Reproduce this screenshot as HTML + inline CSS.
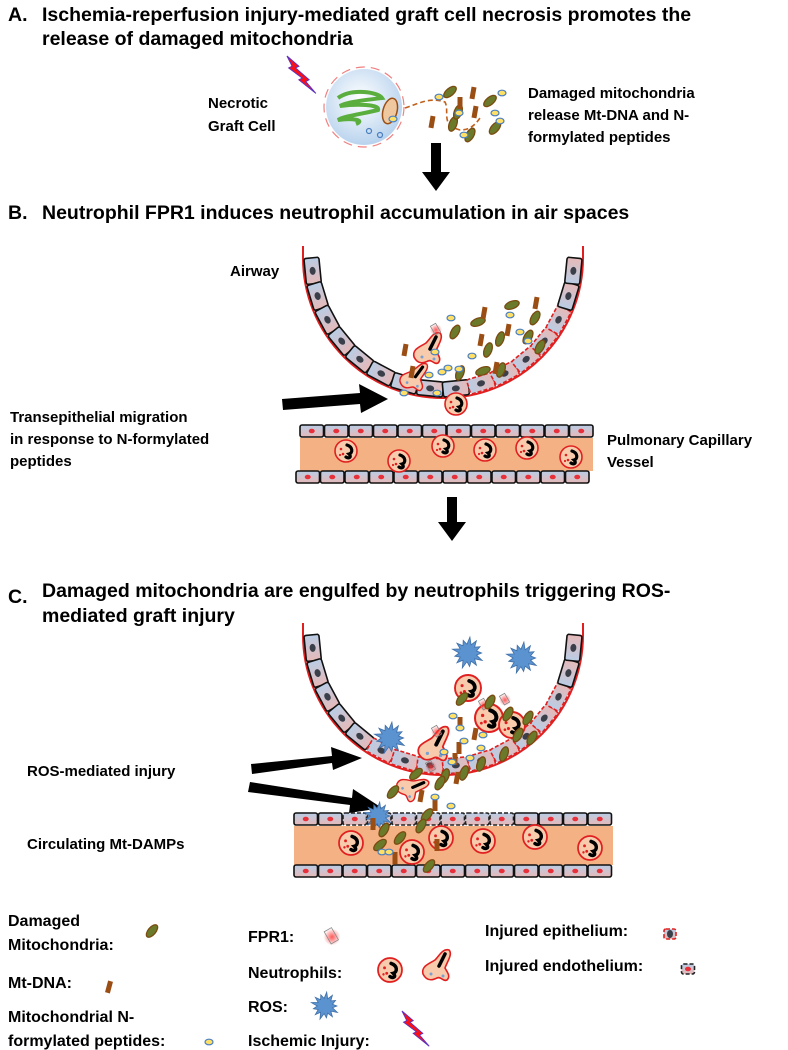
<!DOCTYPE html>
<html><head><meta charset="utf-8">
<style>
html,body{margin:0;padding:0;background:#fff;}
svg{display:block;}
text{font-family:"Liberation Sans",Arial,sans-serif;font-weight:bold;fill:#000;}
.t{font-size:19.5px;}
.l{font-size:15px;}
.g{font-size:16px;}
</style></head><body>
<svg id="s" width="788" height="1050" viewBox="0 0 788 1050" xmlns="http://www.w3.org/2000/svg">
<defs>
<linearGradient id="cg" x1="0" y1="0" x2="0" y2="1"><stop offset="0" stop-color="#b9cde5"/><stop offset="1" stop-color="#e6b9b8"/></linearGradient>
<radialGradient id="cell" cx="0.45" cy="0.4" r="0.6"><stop offset="0" stop-color="#ffffff"/><stop offset="1" stop-color="#b9d3ee"/></radialGradient>
<radialGradient id="fg" cx="0.5" cy="0.5" r="0.5"><stop offset="0" stop-color="#ff3030" stop-opacity="0.8"/><stop offset="1" stop-color="#ff3030" stop-opacity="0"/></radialGradient>
</defs>

<text class="t" x="8" y="21">A.</text>
<text class="t" x="42" y="21">Ischemia-reperfusion injury-mediated graft cell necrosis promotes the</text>
<text class="t" x="42" y="45">release of damaged mitochondria</text>
<text class="l" x="208" y="108">Necrotic</text>
<text class="l" x="208" y="131">Graft Cell</text>
<text class="l" x="528" y="98">Damaged mitochondria</text>
<text class="l" x="528" y="120">release Mt-DNA and N-</text>
<text class="l" x="528" y="142">formylated peptides</text>

<text class="t" x="8" y="219">B.</text>
<text class="t" x="42" y="219">Neutrophil FPR1 induces neutrophil accumulation in air spaces</text>
<text class="l" x="230" y="276">Airway</text>
<text class="l" x="10" y="422">Transepithelial migration</text>
<text class="l" x="10" y="444">in response to N-formylated</text>
<text class="l" x="10" y="466">peptides</text>
<text class="l" x="607" y="445">Pulmonary Capillary</text>
<text class="l" x="607" y="467">Vessel</text>

<text class="t" x="8" y="603">C.</text>
<text class="t" x="42" y="597">Damaged mitochondria are engulfed by neutrophils triggering ROS-</text>
<text class="t" x="42" y="622">mediated graft injury</text>
<text class="l" x="27" y="776">ROS-mediated injury</text>
<text class="l" x="27" y="849">Circulating Mt-DAMPs</text>

<text class="g" x="8" y="926">Damaged</text>
<text class="g" x="8" y="950">Mitochondria:</text>
<text class="g" x="8" y="988">Mt-DNA:</text>
<text class="g" x="8" y="1022">Mitochondrial N-</text>
<text class="g" x="8" y="1046">formylated peptides:</text>
<text class="g" x="248" y="942">FPR1:</text>
<text class="g" x="248" y="978">Neutrophils:</text>
<text class="g" x="248" y="1012">ROS:</text>
<text class="g" x="248" y="1046">Ischemic Injury:</text>
<text class="g" x="485" y="936">Injured epithelium:</text>
<text class="g" x="485" y="971">Injured endothelium:</text>

<polygon points="431,143 441,143 441,172 450,172 436,191 422,172 431,172" fill="#000"/>
<polygon points="447,497 457,497 457,522 466,522 452,541 438,522 447,522" fill="#000"/>
<polygon points="282,399 360,393 359,384 388,399 361,413 360,404 283,410" fill="#000"/>
<polygon points="251,764 332,756 331,747 362,758 333,770 332,763 252,774" fill="#000"/>
<polygon points="250,782 352,798 353,789 382,808 349,813 350,805 248,792" fill="#000"/>

<g id="dyn"></g>
</svg>
<script>
var NS="http://www.w3.org/2000/svg",D=document.getElementById("dyn");
function el(t,a,p){var e=document.createElementNS(NS,t);for(var k in a)e.setAttribute(k,a[k]);(p||D).appendChild(e);return e;}
function cell(cx,cy,w,h,rot,nuc,inj,dashColor){
 var g=el("g",{transform:"translate("+cx+","+cy+") rotate("+rot+")"});
 el("rect",{x:-w/2,y:-h/2,width:w,height:h,rx:2,fill:"url(#cg)",stroke:inj?dashColor:"#111","stroke-width":1.6,"stroke-dasharray":inj?"4,2":"none"},g);
 el("ellipse",{cx:0,cy:0,rx:3,ry:nuc=="r"?2.3:4,fill:nuc=="r"?"#e8303a":"#3b3f4a"},g);
}
function airway(cx,cy,r,injFrom,injTo){
 var R=r+9;
 el("path",{d:"M"+(cx-R)+","+(cy-12)+" L"+(cx-R)+","+cy+" A"+R+","+R+" 0 0 0 "+(cx+R)+","+cy+" L"+(cx+R)+","+(cy-12),fill:"none",stroke:"#e02020","stroke-width":2});
 var n=16;
 for(var i=0;i<n;i++){
  var th=(i+0.5)*Math.PI/n;
  var x=cx-r*Math.cos(th), y=cy+r*Math.sin(th);
  var inj=i>=injFrom&&i<=injTo;
  cell(x,y,15,26,-th*180/Math.PI,"d",inj,"#e02020");
 }
}
function vessel(x0,y,n,w,injSet){
 for(var i=0;i<n;i++){var inj=injSet&&injSet.indexOf(i)>=0;
  cell(x0+i*(w+1)+w/2,y,w,12,0,"r",inj,"#222");}
}
function neut(x,y,r){
 var g=el("g",{transform:"translate("+x+","+y+") scale("+(r/11)+")"});
 el("circle",{r:11,fill:"#f8cbad",stroke:"#e02020","stroke-width":1.6},g);
 el("path",{d:"M1,-6 C7,-4 7,2 3,3 C6,6 3,8 0,6",fill:"none",stroke:"#000","stroke-width":3.2,"stroke-linecap":"round"},g);
 el("circle",{cx:-5,cy:-2,r:1.3,fill:"#e02020"},g);el("circle",{cx:-3,cy:3,r:1.3,fill:"#e02020"},g);el("circle",{cx:-6,cy:4,r:1.1,fill:"#e02020"},g);
}
function amoeb(x,y,s,rot){
 var g=el("g",{transform:"translate("+x+","+y+") rotate("+(rot||0)+") scale("+s+")"});
 el("path",{d:"M-14,4 C-16,-4 -8,-6 -2,-10 C2,-14 6,-22 12,-20 C16,-16 10,-8 8,-2 C10,2 14,6 10,10 C6,12 4,6 0,8 C-4,10 -10,12 -14,4Z",fill:"#f8cbad",stroke:"#e02020","stroke-width":1.6},g);
 el("path",{d:"M8,-16 L2,-4",stroke:"#000","stroke-width":3.5,"stroke-linecap":"round"},g);
 el("circle",{cx:-6,cy:4,r:1.5,fill:"#7aa0d0"},g);el("circle",{cx:6,cy:6,r:1.5,fill:"#7aa0d0"},g);
}
function mito(x,y,rot){el("ellipse",{cx:x,cy:y,rx:7.5,ry:3.8,transform:"rotate("+rot+" "+x+" "+y+")",fill:"#6b7a2a",stroke:"#7a4a10","stroke-width":1.3});}
function dna(x,y,rot){el("rect",{x:x-2.5,y:y-6,width:5,height:12,transform:"rotate("+rot+" "+x+" "+y+")",fill:"#9a4e14"});}
function pep(x,y){el("ellipse",{cx:x,cy:y,rx:4,ry:2.8,fill:"#ffe066",stroke:"#4a7fc0","stroke-width":1.2});}
function ros(x,y,r){var p="";for(var i=0;i<26;i++){var a=i*Math.PI/13,rr=i%2?r*0.55:r*(0.85+0.15*((i*7)%3)/2);p+=(i?"L":"M")+(x+rr*Math.cos(a)).toFixed(1)+","+(y+rr*Math.sin(a)).toFixed(1);}el("path",{d:p+"Z",fill:"#5b93d0",stroke:"#3f6fa8","stroke-width":0.8});}
function bolt(x,y,s){el("path",{d:"M0,0 L14,12 L10,14 L26,28 L22,30 L34,44 L14,28 L18,26 L2,14 L6,12Z",transform:"translate("+x+","+y+") scale("+s+")",fill:"#ff1010",stroke:"#6030c0","stroke-width":1.2});}
function fpr(x,y,s){s=s||1;el("circle",{cx:x,cy:y,r:6*s,fill:"url(#fg)"});el("rect",{x:x-3*s,y:y-6*s,width:6*s,height:10*s,fill:"none",stroke:"#888","stroke-width":0.8,transform:"rotate(-30 "+x+" "+y+")"});}

/* Section A */
bolt(287,56,0.85);
el("circle",{cx:364,cy:107,r:38,fill:"url(#cell)"});
el("circle",{cx:364,cy:107,r:40,fill:"none",stroke:"#f08080","stroke-width":1.2,"stroke-dasharray":"9,6"});
el("path",{d:"M338,98 C352,88 378,92 382,98 C366,100 346,102 340,106 C356,104 380,104 378,110 C362,114 344,116 338,120 C352,118 366,120 356,124",fill:"none",stroke:"#5aae3e","stroke-width":4});
el("ellipse",{cx:390,cy:111,rx:7,ry:13,fill:"#f0c8a0",stroke:"#9a4e14","stroke-width":1.5,transform:"rotate(15 390 111)"});
pep(393,119);el("circle",{cx:369,cy:131,r:2.5,fill:"none",stroke:"#4a7fc0","stroke-width":1.2});el("circle",{cx:380,cy:135,r:2.5,fill:"none",stroke:"#4a7fc0","stroke-width":1.2});
el("path",{d:"M405,108 C420,103 430,97 445,102 C450,112 440,125 460,130 C470,130 475,125 480,118",fill:"none",stroke:"#c0601a","stroke-width":1.6,"stroke-dasharray":"5,3"});
[[450,92,-40],[490,101,-40],[453,124,-70],[470,135,-60],[495,128,-50],[458,112,-70]].forEach(function(m){mito(m[0],m[1],m[2]);});
[[473,93,10],[460,103,0],[432,122,10],[475,112,10]].forEach(function(d){dna(d[0],d[1],d[2]);});
[[439,97],[502,93],[459,113],[495,113],[500,121],[464,135]].forEach(function(p){pep(p[0],p[1]);});

/* Section B */
airway(443,258,131,9,13);
vessel(300,431,12,23.5);
el("rect",{x:300,y:438,width:293,height:33,fill:"#f4b183"});
vessel(296,477,12,23.5);
[[346,451,11],[399,461,11],[443,446,11],[485,450,11],[527,448,11],[571,457,11]].forEach(function(n){neut(n[0],n[1],n[2]);});
neut(456,404,11);
amoeb(428,353,1,0);amoeb(413,380,0.9,10);fpr(436,330);
[[455,332,-60],[478,322,-20],[500,339,-70],[488,350,-70],[501,370,-70],[483,371,-20],[540,347,-60],[528,337,-60],[535,318,-60],[512,305,-20],[460,373,-70]].forEach(function(m){mito(m[0],m[1],m[2]);});
[[484,313,10],[508,330,10],[481,340,10],[536,303,10],[405,350,10],[412,372,10],[496,368,10]].forEach(function(d){dna(d[0],d[1],d[2]);});
[[451,318],[510,315],[520,332],[528,341],[472,356],[435,352],[448,368],[429,375],[442,372],[459,369],[404,393],[437,393]].forEach(function(p){pep(p[0],p[1]);});

/* Section C */
airway(443,635,131,5,13);
el("rect",{x:294,y:826,width:319,height:39,fill:"#f4b183"});
vessel(294,871,13,23.5);
vessel(294,819,13,23.5,[2,3,4,5,6,7,8]);
[[351,843,12],[412,852,12],[441,838,12],[483,841,12],[535,837,12],[590,848,12]].forEach(function(n){neut(n[0],n[1],n[2]);});
neut(468,688,13);neut(489,718,14);neut(512,725,13);
amoeb(434,749,1.1,0);amoeb(409,789,0.9,40);
fpr(484,705);fpr(505,700);fpr(437,732);fpr(431,767);
ros(390,738,16);ros(468,653,16);ros(522,658,16);ros(378,816,14);
[[462,699,-50],[490,702,-60],[508,714,-60],[528,718,-60],[532,738,-60],[518,735,-60],[504,754,-70],[481,764,-70],[464,773,-70],[445,776,-70],[416,774,-40],[440,783,-60],[393,792,-50],[427,815,-50],[421,826,-60],[384,830,-60],[380,845,-40],[429,866,-50],[400,838,-50]].forEach(function(m){mito(m[0],m[1],m[2]);});
[[460,723,0],[475,734,10],[459,748,0],[455,759,0],[457,778,10],[421,796,10],[435,805,0],[437,845,0],[373,824,0],[395,858,0]].forEach(function(d){dna(d[0],d[1],d[2]);});
[[453,716],[460,728],[483,735],[481,748],[464,741],[444,752],[452,762],[470,758],[435,797],[451,806],[382,852],[389,852]].forEach(function(p){pep(p[0],p[1]);});

/* Legend icons */
mito(152,931,-50);
dna(109,987,15);
pep(209,1042);
fpr(332,937,1.4);
neut(390,970,12);
amoeb(437,970,1.0,0);
ros(325,1006,14);
bolt(402,1011,0.8);
cell(670,934,12,10,0,"d",true,"#e02020");
cell(688,969,13,10,0,"r",true,"#222");
</script>
</body></html>
